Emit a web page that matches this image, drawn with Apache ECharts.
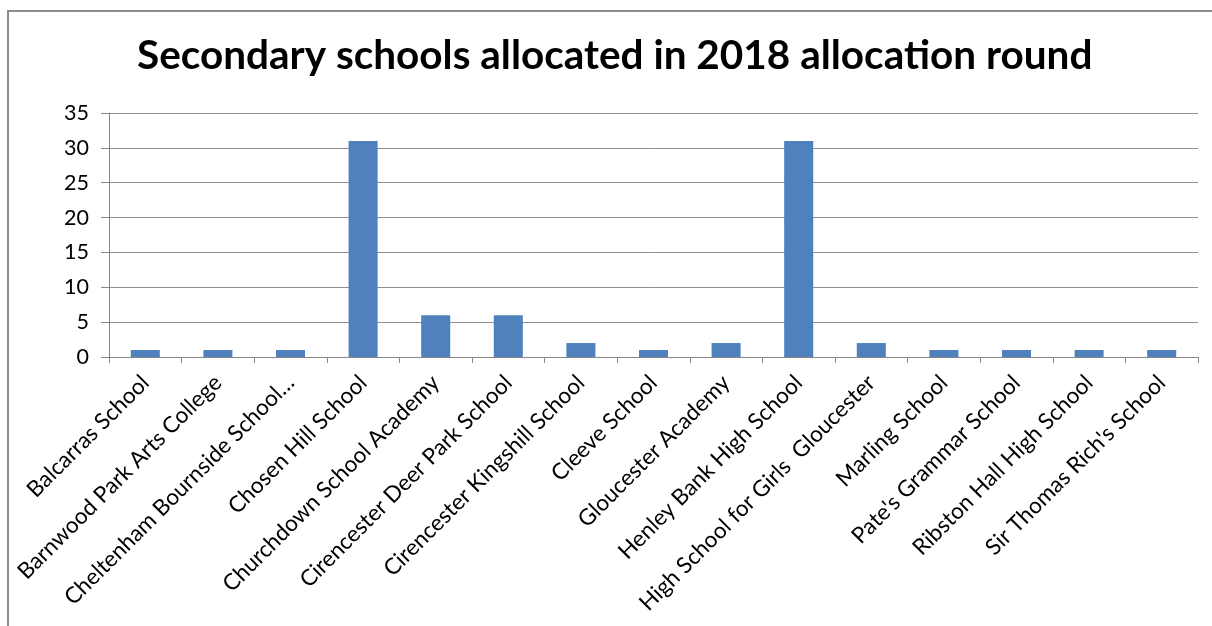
<!DOCTYPE html>
<html>
<head>
<meta charset="utf-8">
<script src="https://cdn.jsdelivr.net/npm/echarts@6/dist/echarts.min.js"></script>
<style>
  html, body { margin: 0; padding: 0; background: #ffffff; }
  #chart { width: 1212px; height: 626px; }
</style>
</head>
<body>
<div id="chart"></div>
<script>
// Secondary schools and number of allocations in the 2018 round
const schools = [
  "Balcarras School",
  "Barnwood Park Arts College",
  "Cheltenham Bournside School…",
  "Chosen Hill School",
  "Churchdown School Academy",
  "Cirencester Deer Park School",
  "Cirencester Kingshill School",
  "Cleeve School",
  "Gloucester Academy",
  "Henley Bank High School",
  "High School for Girls  Gloucester",
  "Marling School",
  "Pate's Grammar School",
  "Ribston Hall High School",
  "Sir Thomas Rich's School"
];
const allocated = [1, 1, 1, 31, 6, 6, 2, 1, 2, 31, 2, 1, 1, 1, 1];
const yMin = 0, yMax = 35, yStep = 5;

const chart = echarts.init(document.getElementById('chart'), null, { renderer: 'canvas' });
const axisGrey = '#868686';

chart.setOption({
  animation: false,
  backgroundColor: '#ffffff',
  title: {
    text: 'Secondary schools allocated in 2018 allocation round',
    left: 137,
    top: 35,
    padding: 0,
    textStyle: { fontFamily: 'Lato', fontWeight: 'bold', fontSize: 40.5, color: '#000000' }
  },
  graphic: [{
    type: 'rect',
    shape: { x: 8, y: 11, width: 1300, height: 700 },
    style: { fill: 'none', stroke: '#8c8c8c', lineWidth: 2 },
    silent: true
  }],
  grid: { left: 109, right: 14, top: 113, bottom: 269, containLabel: false },
  xAxis: {
    type: 'category',
    data: schools,
    boundaryGap: true,
    axisLine: { lineStyle: { color: axisGrey, width: 1 } },
    axisTick: { show: true, alignWithLabel: false, length: 6, lineStyle: { color: axisGrey } },
    axisLabel: {
      interval: 0,
      rotate: 45,
      margin: 22,
      fontFamily: 'Lato',
      fontSize: 22.5,
      color: '#000000'
    }
  },
  yAxis: {
    type: 'value',
    min: yMin,
    max: yMax,
    interval: yStep,
    axisLine: { show: true, lineStyle: { color: axisGrey, width: 1 } },
    axisTick: { show: true, length: 8, lineStyle: { color: axisGrey } },
    axisLabel: { fontFamily: 'Lato', fontSize: 21.5, color: '#000000', margin: 20 },
    splitLine: { lineStyle: { color: '#8f8f8f', width: 1 } }
  },
  series: [{
    type: 'bar',
    data: allocated,
    barWidth: '40%',
    itemStyle: { color: '#4F81BD' }
  }]
});
</script>
</body>
</html>
